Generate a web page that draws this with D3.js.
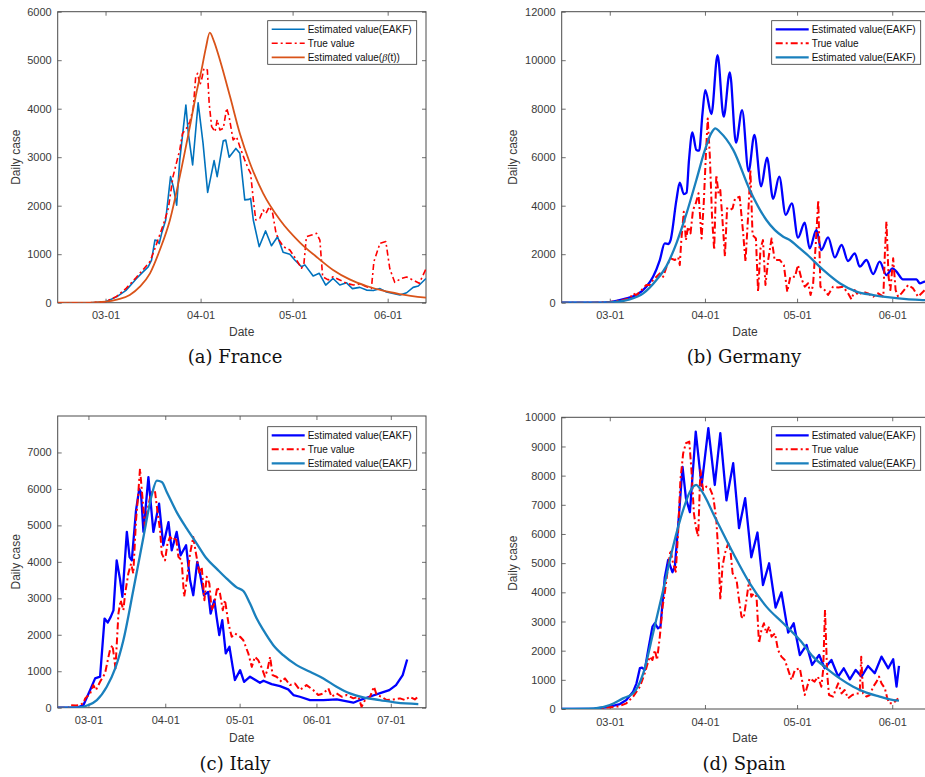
<!DOCTYPE html>
<html><head><meta charset="utf-8">
<script src="https://cdn.jsdelivr.net/npm/d3@7"></script>
<style>body{margin:0;background:#fff;overflow:hidden} svg{display:block}</style>
</head><body>
<svg id="chart" width="925" height="777"></svg>
<script>
// ---------------- DATA (days counted from 2020-03-01, values = daily cases) ----------------
const captions = ["(a) France", "(b) Germany", "(c) Italy", "(d) Spain"];
const legendLabels = ["Estimated value(EAKF)", "True value", "Estimated value(EAKF)"];
const xTickDates4 = ["2020-03-01", "2020-04-01", "2020-05-01", "2020-06-01"];
const xTickDates5 = ["2020-03-01", "2020-04-01", "2020-05-01", "2020-06-01", "2020-07-01"];
const franceYTicks = [0, 1000, 2000, 3000, 4000, 5000, 6000];
const germanyYTicks = [0, 2000, 4000, 6000, 8000, 10000, 12000];
const italyYTicks = [0, 1000, 2000, 3000, 4000, 5000, 6000, 7000];
const spainYTicks = [0, 1000, 2000, 3000, 4000, 5000, 6000, 7000, 8000, 9000, 10000];

// France
const franceEakfDay = [-15.6,-5,0,3.6,6.8,10.1,12.3,13.9,15,16.1,16.8,17.5,18.3,19.6,21.2,22.1,23.2,24.2,26.2,27,28.4,30.2,31.8,33.3,35.4,36.4,38.4,39.2,40.3,42.5,43.8,45.4,46.8,47.3,48.2,50.1,52.2,54.1,56.1,57.9,60.1,61.7,63.9,65,67.7,69.7,71.8,74.2,76.4,78.6,80.5,82.9,85.1,87.3,89.5,91.6,93.8,96,98.2,100.3,102,104.5];
const franceEakfVal = [0,0,20,120,260,500,640,740,880,1290,1280,1220,1430,1700,2600,2390,2010,2940,4075,3490,2840,4120,3285,2275,2930,2600,3340,3355,3000,3180,3080,2120,2130,2150,1700,1155,1480,1175,1360,1040,1000,880,740,780,550,605,364,500,364,410,290,316,260,250,290,220,190,160,205,316,344,500];
const franceTrueDay = [-15.6,-5,0,3.6,6.8,10,12.5,14.5,16,17.4,19,20.5,22,24.2,25.1,26.4,27.5,28.6,29.4,30,30.8,31.3,32.1,33.2,33.8,34.6,35.7,36.4,37.3,38.4,39.5,40.3,41.6,42.7,43.8,45.4,46.5,47.3,48.2,49,50.3,51.4,52.3,53.4,54.5,55.6,56.6,58,60.1,62.3,63.9,64.7,65.5,67.2,68.8,69.9,70.8,72.6,74.2,76.4,78.6,80.8,82.9,85.1,86.7,87.5,89.5,91.4,92.7,94.3,96.5,98.2,100.8,102.3,104.5];
const franceTrueVal = [0,0,20,130,300,520,700,850,1100,1350,1640,1950,2600,3150,3490,3595,3730,4010,4660,4730,4490,4590,4830,4800,4110,3630,3525,3770,3560,3595,4010,3835,3355,3420,3215,2940,2770,2670,2117,1705,1740,1910,1840,1980,1840,1430,1290,1155,1087,880,710,810,1360,1395,1430,1290,535,470,535,470,400,365,385,330,295,845,1225,1260,700,420,500,530,450,400,700];
const franceBetaDay = [-15.6,-5,0,4,7.9,11.2,14.5,17.7,21,24.2,27.5,29.7,31.3,32.7,34,35.3,37.3,40.6,43.8,47.1,51.4,56.9,63.4,69.4,74.2,79.6,85.1,90.5,95.9,104.5];
const franceBetaVal = [0,3,20,70,160,330,606,1087,1705,2600,3630,4350,4800,5250,5567,5400,5005,4250,3490,2875,2255,1705,1240,914,675,480,344,247,179,103];

// Germany
const germanyEakfDay = [-15.7,-5,0,5.4,8.7,11.9,14.1,16.3,17.9,19,19.8,21.7,22.8,24.1,25,25.8,26.9,28.2,29.1,30.2,31.1,33.1,35.1,37.1,39.1,41.1,43.1,45.2,47.1,49.3,51.2,53.2,55.2,57.3,59.3,61.3,63.5,65.1,67.3,68.9,71.1,73.3,75.5,77.6,79.8,81.4,83.6,85.8,87.9,90.1,92.1,93.4,95.5,97.7,99.9,101,102.6,104.2];
const germanyEakfVal = [0,0,27,180,316,660,1070,1760,2450,2420,2580,4230,4950,4480,4535,5880,7020,6300,6270,7810,8770,7780,10210,7670,9500,6600,7945,5420,6915,4800,5980,4280,5195,3620,4095,2680,3300,2240,3000,2170,2695,1870,2380,1720,2035,1485,1760,1180,1690,1140,1415,1280,960,960,960,800,865,860];
const germanyTrueDay = [-15.7,-5,0,4.3,6.5,7.6,8.7,9.8,10.9,11.9,13,14.1,15.2,16.3,17.4,18.5,19.8,21.2,22.3,22.8,23.3,24.1,24.8,25.5,26.3,27.1,28,28.9,29.9,30.6,31.3,31.9,32.6,33.3,34,34.7,35.4,36,36.7,37.5,38.2,39.1,40,40.8,42.3,43.4,44.2,45.1,45.8,46.5,47.6,48.3,49.1,49.9,50.7,51.6,52.7,53.7,55.4,56.7,57.8,58.8,60.3,61.3,62.4,63.5,64.6,65.4,66.2,67.1,67.9,68.6,70,71.1,72.7,74.4,76,77.6,78.7,79.8,80.9,82.5,84.1,85.8,87.4,89.1,89.6,90.1,90.8,91.4,92.3,93.1,93.9,95,97.2,98.8,100.4,102.6,104.2];
const germanyTrueVal = [0,0,27,110,180,385,316,450,590,730,730,935,1070,1210,1070,1485,1830,1760,1870,1550,2580,3750,2580,3130,2860,3820,4095,4510,2650,4095,6090,7600,6020,3545,2170,5265,4510,4645,3410,1900,3890,3820,3890,4300,4370,2930,1690,3680,5470,2790,2650,450,2240,2580,730,1760,2650,1760,1760,1550,450,1070,1070,1550,1000,660,800,316,730,2450,4230,660,520,316,660,630,660,385,140,520,316,450,385,250,385,250,2035,3350,1070,520,1830,520,250,385,730,590,250,520,450];
const germanyFitDay = [-15.7,-5,0,6.5,10.9,15.2,18.5,21.7,25,28.2,31,33.1,34.4,35.8,40.2,45.6,51,56.5,58.6,61.9,64.1,69.5,74.9,80.3,85.8,91.2,96.6,102.6,104.2];
const germanyFitVal = [0,2,14,137,385,935,1520,2450,3680,5060,6300,7000,7190,7050,6300,4650,3410,2720,2585,2240,2000,1350,800,455,316,220,150,110,100];

// Italy
const italyEakfDay = [-12.4,-4.7,-2,0.7,2.7,4.7,6.5,7.8,9,10.1,11.4,12.7,13.7,15.5,16.6,17.5,19.2,20.5,21.2,22.2,24.2,26.2,28.5,30.2,32.3,33.6,35.6,37.2,39.4,41,42.3,43.9,45,46.6,48.3,49.3,50.8,51.7,52.8,54,55.4,56.9,58.2,59.1,61.2,62.8,65.2,69.2,70.6,73.9,77.3,80.6,82.7,85.3,89.4,94.8,100.2,106.9,109.5,113.4,117.4,121.4,124.1,126.8,128.6];
const italyEakfVal = [0,0,73,484,803,850,2445,2335,2490,2670,4040,3540,3040,4820,4130,4040,5410,6000,5900,4820,6325,4820,5595,4455,5090,4315,4820,4180,4455,3495,3085,4000,3680,3085,3175,2580,2950,2490,1990,2400,1490,1670,1120,760,1030,710,850,684,740,648,593,502,347,300,210,210,228,137,210,300,392,484,620,894,1323];
const italyTrueDay = [-12.4,-8,-7.4,-5,-3.4,-2,-1.3,0.7,2,3,4.7,6.7,8.1,8.7,9.7,10.5,10.9,12.1,13,14.1,14.8,16.1,17.2,18.1,19.2,20.1,20.8,21.9,22.8,23.8,24.9,25.9,26.9,27.8,28.9,29.6,30.9,31.9,32.9,34.3,35.3,36.3,37.6,38.6,39.7,41,42.3,43.4,44.8,45.7,46.8,47.7,48.8,49.7,50.8,52,53.1,54.2,55.1,56.5,57.8,59.1,61.2,62.5,64.5,65.9,67.2,68.5,69.9,71.2,72.2,73.3,74.3,75.9,77.9,79.3,81.3,83.3,85.3,88,90.7,92.7,94.8,96.8,98.1,100.1,102.2,104.2,106.9,108.9,110.2,111.6,113.6,115.2,116.3,118.3,120.3,123,125.7,127.7,129.7,131.7,133];
const italyTrueVal = [0,0,72,60,72,130,255,392,620,484,710,940,1400,1580,1715,1305,1080,2580,2950,2675,3130,3680,3950,3680,5140,5870,6550,5685,4955,5410,5775,5960,5915,5410,4865,4225,4040,4500,4680,4590,4680,4135,4040,3040,3495,4225,4680,4225,3680,3860,2950,3590,3405,2675,2855,3310,3130,2675,2950,2310,1945,2035,1945,1850,1490,1120,1395,1305,1100,850,1030,1395,894,850,710,803,620,666,484,620,484,347,392,530,300,392,300,347,256,300,27,210,300,575,347,300,210,228,256,210,300,228,300];
const italyFitDay = [-12.4,-4,0,3.4,7.4,10.8,14.1,18.1,22.2,25.5,27.6,29.6,31.6,35.6,39.7,43.7,47.7,51.7,55.8,59.8,62.5,65.2,67.9,70.6,74.6,78.6,84,89.4,94.8,100.1,105.5,110.9,117.6,124.3,133.1];
const italyFitVal = [0,5,73,210,575,1077,1850,3220,4680,5820,6230,6190,5915,5365,4910,4500,4090,3815,3540,3300,3200,2855,2445,2125,1715,1440,1168,985,803,575,392,283,210,137,100];

// Spain
const spainEakfDay = [-15.7,-5,0,3.3,5.4,7.6,8.7,9.8,10.5,11.4,12.5,13.9,14.7,15.7,16.5,17.9,19,20.4,21.2,22.5,23.7,24.8,26.1,28,29.9,32.1,34.2,36,38,40.2,42.1,44.1,46.1,48.1,49.9,51.9,54,55.9,58.1,59.9,61.9,64.1,65.9,68.2,70,72.2,74.4,76.2,78.2,80.1,82,84.1,86.3,88.5,90.7,92.3,93.4,94.2];
const spainEakfVal = [0,10,80,170,310,595,880,1400,1420,1340,2020,2825,2940,2765,2825,4500,5110,4690,4880,6600,8300,7225,6750,9510,7650,9625,7680,9455,7150,8425,6200,7225,5200,6050,4250,4995,3480,4000,2620,2940,1850,2195,1510,1850,1395,1680,1110,1395,1017,1340,1110,1475,1225,1795,1395,1705,765,1475];
const spainTrueDay = [-15.7,-5,0,3,5.4,7.6,9.8,11.4,13,13.9,14.7,15.4,16.3,17.2,17.9,19,19.8,20.6,21.5,22.3,23,23.9,24.8,25.9,26.6,27.4,28,28.8,29.5,30.4,31.5,32.6,33.7,34.7,35.5,36,36.7,37.5,38.6,39.3,40,41.3,42.1,42.9,43.6,44.5,45.4,46.1,46.9,47.8,48.6,49.4,50.2,51,51.9,52.7,53.8,54.8,55.9,57,58.1,59.2,60.3,61.9,63.5,65.1,66.7,67.8,68.9,69.5,70.1,70.8,71.4,72.7,74.4,75.5,76.5,77.6,79,80.3,81.4,81.9,82.5,83.6,84.7,85.8,86.9,87.7,88.5,89.6,90.3,91,92.3,93.9];
const spainTrueVal = [0,0,60,90,195,425,765,1225,1795,1680,2020,1680,2480,3510,3965,4880,5450,4995,4710,6140,7850,8765,9110,9165,8195,6710,6250,5910,8195,7510,7625,7565,7280,6480,5110,3740,4880,5340,5680,5450,4650,4420,3740,3165,3110,3740,4420,3850,3965,3850,2250,2710,2940,2595,2825,2480,2595,2020,1795,1680,1340,995,1340,1395,480,1050,940,1110,765,1340,3395,1225,480,425,880,535,650,365,480,535,535,1795,535,425,480,765,940,1110,880,710,400,195,195,365];
const spainFitDay = [-15.7,-5,0,4.3,7.6,10.9,14.1,17.4,20.6,23.9,26.1,28.2,29.3,34.7,40.2,45.6,51,56.5,61.9,66.2,70.6,74.9,79.3,83.6,87.9,91.2,94.2];
const spainFitVal = [0,20,137,365,540,1225,2595,4080,5565,6825,7450,7680,7565,6480,5340,4310,3510,2940,2365,1795,1395,1050,765,560,425,330,285];

// ---------------- STYLES ----------------
const RED = "#ff0000", BLUE = "#0000ff", MBLUE = "#0072bd", TEAL = "#1a80bd", ORANGE = "#d95319";
const lineStyles = {
  franceEakf: {color: MBLUE, width: 1.6, dash: null, smooth: false},
  franceTrue: {color: RED, width: 1.6, dash: "6,3,2,3", smooth: false},
  franceBeta: {color: ORANGE, width: 1.8, dash: null, smooth: true},
  eakfSmooth: {color: BLUE, width: 2.3, dash: null, smooth: true},
  eakf: {color: BLUE, width: 2.3, dash: null, smooth: false},
  truev: {color: RED, width: 2, dash: "7,3,2,3", smooth: false},
  fit: {color: TEAL, width: 2.3, dash: null, smooth: true}
};

const panels = [
  {left: 57.7, right: 426, top: 11.7, bottom: 302.7, xDom: [-15.6, 104.5], yMax: 6000, yTicks: franceYTicks, xTicks: xTickDates4,
   ylabX: 16, dateX: 241.7, dateY: 332, capX: 235, capY: 363, legX: 267.7, legY: 20.7,
   series: [
     {days: franceEakfDay, vals: franceEakfVal, style: lineStyles.franceEakf, label: "Estimated value(EAKF)"},
     {days: franceTrueDay, vals: franceTrueVal, style: lineStyles.franceTrue, label: "True value"},
     {days: franceBetaDay, vals: franceBetaVal, style: lineStyles.franceBeta, label: "beta"}
   ]},
  {left: 561.7, right: 929.7, top: 11.7, bottom: 302.7, xDom: [-15.66, 104.2], yMax: 12000, yTicks: germanyYTicks, xTicks: xTickDates4,
   ylabX: 513, dateX: 745, dateY: 332, capX: 744, capY: 363, legX: 771.7, legY: 20.7,
   series: [
     {days: germanyEakfDay, vals: germanyEakfVal, style: lineStyles.eakfSmooth, label: legendLabels[0]},
     {days: germanyTrueDay, vals: germanyTrueVal, style: lineStyles.truev, label: legendLabels[1]},
     {days: germanyFitDay, vals: germanyFitVal, style: lineStyles.fit, label: legendLabels[2]}
   ]},
  {left: 57.7, right: 426, top: 416, bottom: 707.7, xDom: [-12.4, 136.2], yMax: 8000, yTicks: italyYTicks, xTicks: xTickDates5,
   ylabX: 16, dateX: 241.7, dateY: 738, capX: 235, capY: 770, legX: 267.7, legY: 426.7,
   series: [
     {days: italyEakfDay, vals: italyEakfVal, style: lineStyles.eakf, label: legendLabels[0]},
     {days: italyTrueDay, vals: italyTrueVal, style: lineStyles.truev, label: legendLabels[1]},
     {days: italyFitDay, vals: italyFitVal, style: lineStyles.fit, label: legendLabels[2]}
   ]},
  {left: 561.7, right: 929.7, top: 417.3, bottom: 709, xDom: [-15.66, 104.2], yMax: 10000, yTicks: spainYTicks, xTicks: xTickDates4,
   ylabX: 513, dateX: 745, dateY: 738, capX: 744, capY: 770, legX: 771.7, legY: 426.7,
   series: [
     {days: spainEakfDay, vals: spainEakfVal, style: lineStyles.eakf, label: legendLabels[0]},
     {days: spainTrueDay, vals: spainTrueVal, style: lineStyles.truev, label: legendLabels[1]},
     {days: spainFitDay, vals: spainFitVal, style: lineStyles.fit, label: legendLabels[2]}
   ]}
];

// ---------------- DRAW ----------------
const BASE = Date.UTC(2020, 2, 1), DAY = 864e5;
const toDate = d => new Date(BASE + d * DAY);
const parse = d3.utcParse("%Y-%m-%d");
const fmt = d3.utcFormat("%m-%d");
const yfmt = d3.format("d");
const svg = d3.select("#chart");
const defs = svg.append("defs");
const AX = "#4a4a4a", TXT = "#3a3a3a", SANS = "'Liberation Sans', Arial, Helvetica, sans-serif";

function styleAxis(sel) {
  sel.select(".domain").remove();
  sel.selectAll(".tick line").attr("stroke", AX).attr("stroke-width", 0.8);
  sel.selectAll(".tick text").attr("fill", TXT).style("font-family", SANS).style("font-size", "11px");
}

panels.forEach((p, i) => {
  const g = svg.append("g");
  const x = d3.scaleUtc().domain(p.xDom.map(toDate)).range([p.left, p.right]);
  const y = d3.scaleLinear().domain([0, p.yMax]).range([p.bottom, p.top]);
  const xt = p.xTicks.map(parse);

  defs.append("clipPath").attr("id", "clip" + i).append("rect")
    .attr("x", p.left).attr("y", p.top).attr("width", p.right - p.left).attr("height", p.bottom - p.top);

  g.append("g").attr("transform", `translate(0,${p.bottom})`)
    .call(d3.axisBottom(x).tickValues(xt).tickFormat(fmt).tickSizeInner(-4).tickSizeOuter(0).tickPadding(9)).call(styleAxis);
  g.append("g").attr("transform", `translate(0,${p.top})`)
    .call(d3.axisTop(x).tickValues(xt).tickFormat(() => "").tickSizeInner(-4).tickSizeOuter(0)).call(styleAxis);
  g.append("g").attr("transform", `translate(${p.left},0)`)
    .call(d3.axisLeft(y).tickValues(p.yTicks).tickFormat(yfmt).tickSizeInner(-4).tickSizeOuter(0).tickPadding(6)).call(styleAxis);
  g.append("g").attr("transform", `translate(${p.right},0)`)
    .call(d3.axisRight(y).tickValues(p.yTicks).tickFormat(() => "").tickSizeInner(-4).tickSizeOuter(0)).call(styleAxis);

  g.append("rect").attr("x", p.left).attr("y", p.top).attr("width", p.right - p.left).attr("height", p.bottom - p.top)
    .attr("fill", "none").attr("stroke", AX).attr("stroke-width", 1);

  const lines = g.append("g").attr("clip-path", `url(#clip${i})`);
  p.series.forEach(s => {
    const pts = s.days.map((d, k) => [toDate(d), s.vals[k]]);
    const line = d3.line().x(d => x(d[0])).y(d => y(d[1]))
      .curve(s.style.smooth ? d3.curveMonotoneX : d3.curveLinear);
    lines.append("path").datum(pts).attr("d", line)
      .attr("fill", "none").attr("stroke", s.style.color).attr("stroke-width", s.style.width)
      .attr("stroke-linejoin", "round")
      .attr("stroke-dasharray", s.style.dash);
  });

  // axis labels
  g.append("text").attr("x", p.dateX).attr("y", p.dateY + 4)
    .attr("text-anchor", "middle").attr("fill", TXT).style("font-family", SANS).style("font-size", "12px").text("Date");
  const ymid = (p.top + p.bottom) / 2;
  g.append("text").attr("transform", `translate(${p.ylabX + 4},${ymid}) rotate(-90)`)
    .attr("text-anchor", "middle").attr("fill", TXT).style("font-family", SANS).style("font-size", "12px").text("Daily case");

  // legend
  const lg = g.append("g").attr("transform", `translate(${p.legX},${p.legY})`);
  lg.append("rect").attr("width", 149).attr("height", 43.6).attr("fill", "#fff").attr("stroke", "#333").attr("stroke-width", 0.8);
  p.series.forEach((s, k) => {
    const cy = 8.6 + k * 14;
    lg.append("line").attr("x1", 4).attr("x2", 37).attr("y1", cy).attr("y2", cy)
      .attr("stroke", s.style.color).attr("stroke-width", s.style.width).attr("stroke-dasharray", s.style.dash);
    const t = lg.append("text").attr("x", 40).attr("y", cy + 3.6).attr("fill", "#111")
      .style("font-family", SANS).style("font-size", "10px");
    if (s.label === "beta") {
      t.append("tspan").text("Estimated value(");
      t.append("tspan").attr("font-style", "italic").attr("font-family", "'Liberation Serif', serif").text("β");
      t.append("tspan").text("(t))");
    } else {
      t.text(s.label);
    }
  });

  // caption
  svg.append("text").attr("x", p.capX).attr("y", p.capY).attr("text-anchor", "middle")
    .attr("fill", "#111").style("font-family", "'DejaVu Serif', serif").style("font-size", "18px").text(captions[i]);
});
</script>
</body></html>
